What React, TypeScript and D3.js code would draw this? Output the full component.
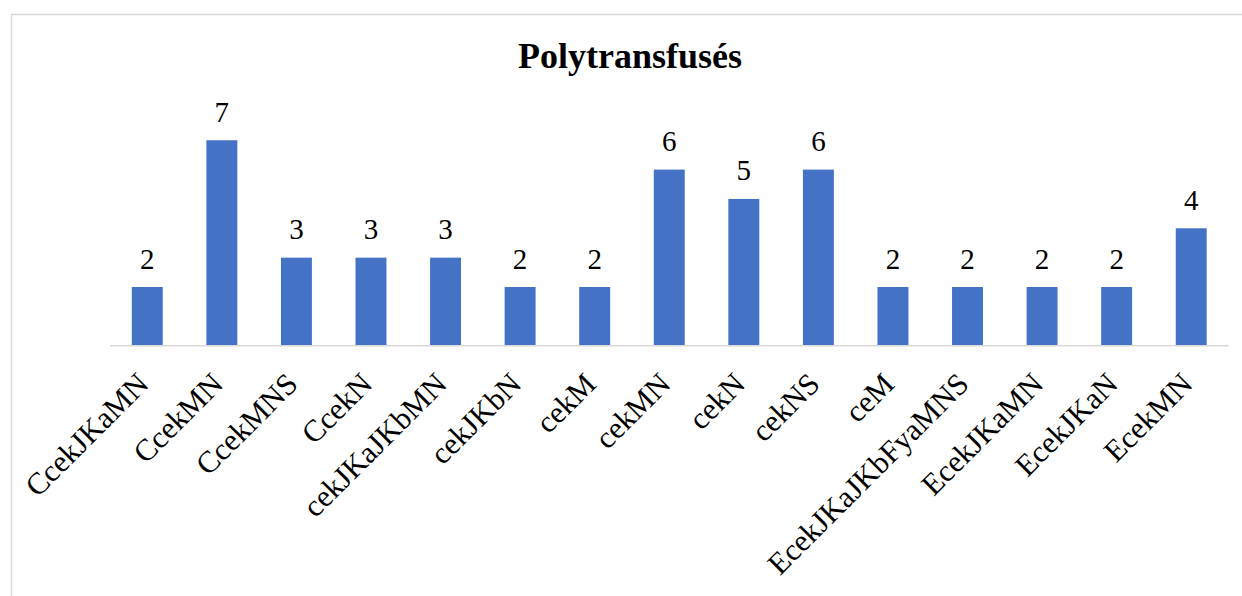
import React from "react";
import * as d3 from "d3";

// Phenotype categories and patient counts
const categories: string[] = [
  "CcekJKaMN",
  "CcekMN",
  "CcekMNS",
  "CcekN",
  "cekJKaJKbMN",
  "cekJKbN",
  "cekM",
  "cekMN",
  "cekN",
  "cekNS",
  "ceM",
  "EcekJKaJKbFyaMNS",
  "EcekJKaMN",
  "EcekJKaN",
  "EcekMN",
];

const counts: number[] = [2, 7, 3, 3, 3, 2, 2, 6, 5, 6, 2, 2, 2, 2, 4];

const chartTitle = "Polytransfusés";

const WIDTH = 1242;
const HEIGHT = 596;
const FONT = "'Liberation Serif', 'Times New Roman', serif";

export default function App() {
  const baseY = 345.7;
  const x = d3
    .scaleBand<string>()
    .domain(categories)
    .range([110, 1228.5])
    .padding(0);
  const y = d3.scaleLinear().domain([0, 8]).range([baseY, baseY - 8 * 29.35]);
  const barW = x.step() * 0.415;

  return (
    <svg
      width={WIDTH}
      height={HEIGHT}
      style={{ position: "absolute", left: 0, top: 0, background: "#fff" }}
    >
      <rect x={0} y={0} width={WIDTH} height={HEIGHT} fill="#fff" />
      {/* chart area frame */}
      <rect
        x={11.5}
        y={14.5}
        width={WIDTH + 20}
        height={HEIGHT + 20}
        fill="none"
        stroke="#d9d9d9"
        strokeWidth={1.5}
      />
      <text
        x={630}
        y={68}
        textAnchor="middle"
        fontFamily={FONT}
        fontWeight="bold"
        fontSize={36}
        fill="#000"
      >
        {chartTitle}
      </text>

      {categories.map((c, i) => {
        const cx = (x(c) as number) + x.bandwidth() / 2;
        const v = counts[i];
        return (
          <g key={c}>
            <rect
              x={cx - barW / 2}
              y={y(v)}
              width={barW}
              height={baseY - y(v)}
              fill="#4472C4"
            />
            <text
              x={cx}
              y={y(v) - 18.5}
              textAnchor="middle"
              fontFamily={FONT}
              fontSize={29}
              fill="#000"
            >
              {v}
            </text>
            <text
              transform={`translate(${cx + 3},${baseY + 40}) rotate(-45)`}
              textAnchor="end"
              fontFamily={FONT}
              fontSize={30.5}
              fill="#000"
            >
              {c}
            </text>
          </g>
        );
      })}

      <line
        x1={110}
        x2={1228.5}
        y1={baseY}
        y2={baseY}
        stroke="#d9d9d9"
        strokeWidth={1.5}
      />
    </svg>
  );
}
